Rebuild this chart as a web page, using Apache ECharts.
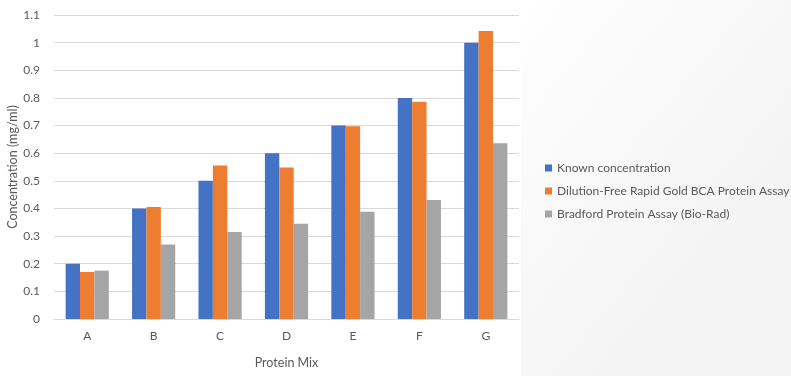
<!DOCTYPE html>
<html>
<head>
<meta charset="utf-8">
<script src="https://cdn.jsdelivr.net/npm/echarts@6/dist/echarts.min.js"></script>
<style>
  html, body { margin: 0; padding: 0; background: #fff; }
  #chart { width: 791px; height: 376px; }
</style>
</head>
<body>
<div id="chart"></div>
<script>
var categories = ['A', 'B', 'C', 'D', 'E', 'F', 'G'];
var knownConc = [0.2, 0.4, 0.5, 0.6, 0.7, 0.8, 1.0];
var rapidGold = [0.17, 0.405, 0.555, 0.548, 0.697, 0.786, 1.042];
var bradford = [0.175, 0.27, 0.315, 0.345, 0.388, 0.431, 0.636];
var seriesNames = [
  'Known concentration',
  'Dilution-Free Rapid Gold BCA Protein Assay',
  'Bradford Protein Assay (Bio-Rad)'
];

var myChart = echarts.init(document.getElementById('chart'));
var font = 'Lato, "Open Sans", sans-serif';

var option = {
  backgroundColor: '#ffffff',
  color: ['#4472C4', '#ED7D31', '#A5A5A5'],
  animation: false,
  textStyle: { fontFamily: font },
  graphic: [{
    type: 'rect',
    z: -10,
    silent: true,
    shape: { x: 521, y: 0, width: 270, height: 376 },
    style: {
      fill: new echarts.graphic.LinearGradient(0, 0, 1, 0.6, [
        { offset: 0, color: '#ffffff' },
        { offset: 0.35, color: '#fafafa' },
        { offset: 1, color: '#f3f3f3' }
      ])
    }
  }],
  grid: { left: 54, right: 272, top: 15, bottom: 57, outerBoundsMode: 'none' },
  legend: {
    orient: 'vertical',
    left: 540,
    top: 156,
    itemWidth: 7,
    itemHeight: 7,
    itemGap: 9,
    icon: 'rect',
    data: seriesNames,
    textStyle: { color: '#595959', fontSize: 12, lineHeight: 14, fontFamily: font }
  },
  xAxis: {
    type: 'category',
    data: categories,
    name: 'Protein Mix',
    nameLocation: 'middle',
    nameGap: 37,
    nameMoveOverlap: false,
    nameTextStyle: { color: '#595959', fontSize: 12.5 },
    axisLine: { lineStyle: { color: '#d9d9d9' } },
    axisTick: { show: false },
    axisLabel: { color: '#595959', fontSize: 12, margin: 11 }
  },
  yAxis: {
    type: 'value',
    min: 0,
    max: 1.1,
    interval: 0.1,
    name: 'Concentration (mg/ml)',
    nameLocation: 'middle',
    nameGap: 35,
    nameMoveOverlap: false,
    nameTextStyle: { color: '#595959', fontSize: 12.5 },
    axisLine: { show: false },
    axisTick: { show: false },
    splitLine: { lineStyle: { color: '#d9d9d9' } },
    axisLabel: {
      color: '#595959',
      fontSize: 12,
      margin: 14,
      formatter: function (v) { return parseFloat(v.toFixed(1)); }
    }
  },
  series: [
    { name: seriesNames[0], type: 'bar', data: knownConc, barGap: '0%', barCategoryGap: '35%' },
    { name: seriesNames[1], type: 'bar', data: rapidGold, barGap: '0%', barCategoryGap: '35%' },
    { name: seriesNames[2], type: 'bar', data: bradford, barGap: '0%', barCategoryGap: '35%' }
  ]
};

myChart.setOption(option);
</script>
</body>
</html>
